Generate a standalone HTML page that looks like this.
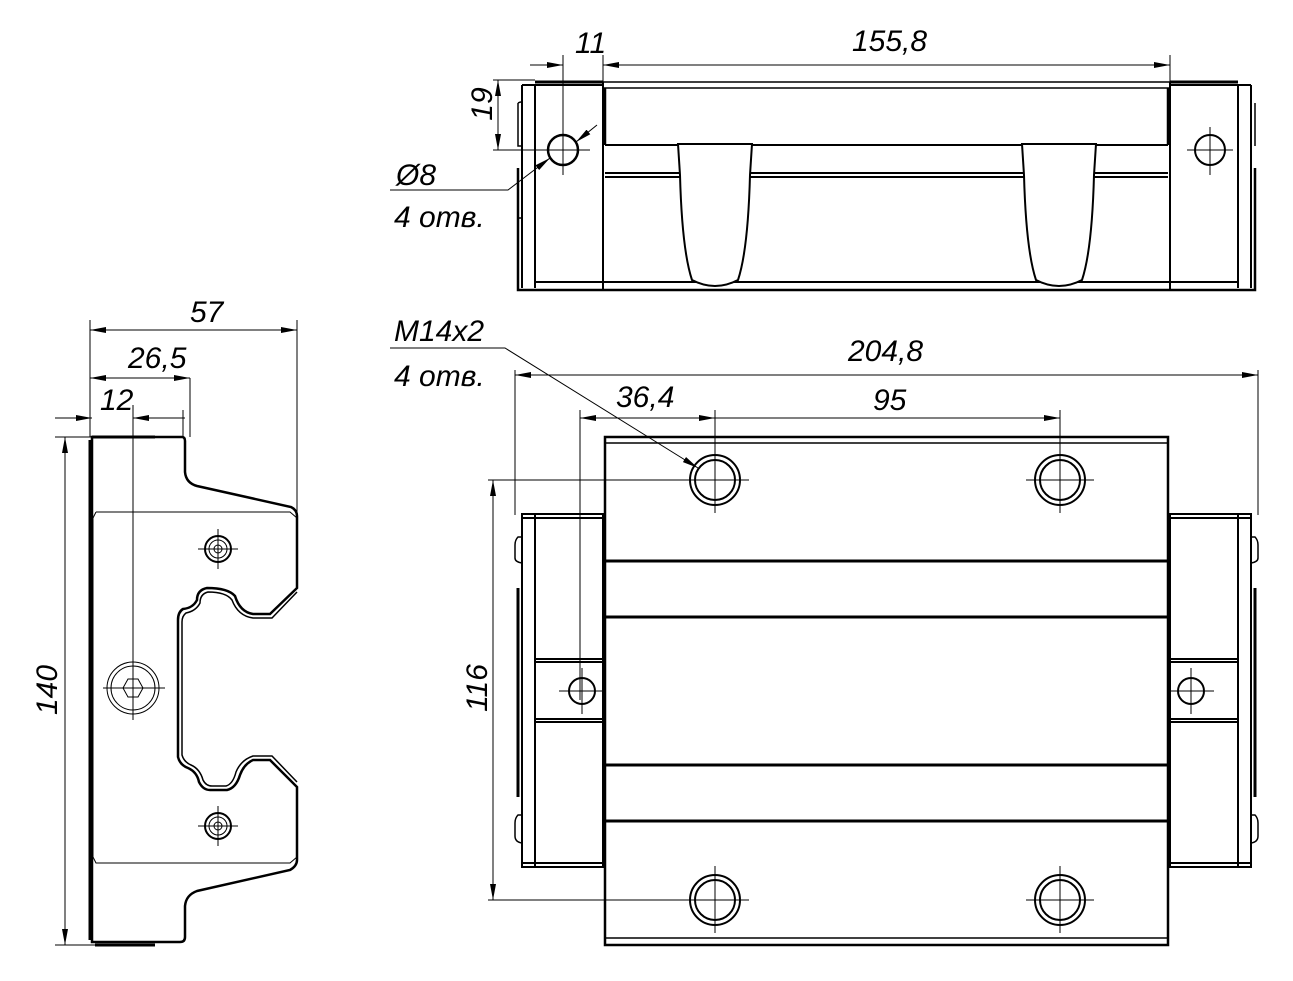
<!DOCTYPE html>
<html><head><meta charset="utf-8"><style>
html,body{margin:0;padding:0;background:#fff}
svg{display:block}
text{font-family:"Liberation Sans","DejaVu Sans",sans-serif;font-style:italic;font-size:30px;fill:#000}
</style></head><body>
<svg width="1293" height="981" viewBox="0 0 1293 981" xmlns="http://www.w3.org/2000/svg">
<defs>
<marker id="a" markerWidth="16" markerHeight="6" refX="16" refY="3" orient="auto-start-reverse" markerUnits="userSpaceOnUse"><path d="M0,0 L16,3 L0,6 z" fill="#000"/></marker>
</defs>
<g fill="none" stroke="#000" stroke-width="1">
<!-- ===== LEFT VIEW ===== -->
<path stroke-width="2.5" d="M92,437 H182 Q185,437 185,441 V472 Q186,483 197,486 L291,507 Q297,510 297,516 V588 L270,614 H253 Q240,612 235,596 Q228,588 207,588 Q197,590 197,600 Q193,608 183,609 Q178,612 178,620 V757 Q180,765 188,768 Q197,772 199,782 Q203,790 210,790 H227 Q236,788 240,775 Q244,764 253,760 H270 L297,787 V860 Q297,866 290,870 L197,891 Q186,895 185,906 V937 Q185,942 180,942 H92 Z"/>
<path stroke-width="1.5" d="M297,592 L272,618 H253 Q238,616 232,600 Q226,592 208,592 Q200,594 200,603 Q196,611 186,613 Q182,616 182,622 V755 Q184,762 191,765 Q200,769 203,780 Q206,786 212,786 H226 Q233,784 236,772 Q241,760 253,756 H272 L297,782"/>
<path d="M96,512 H290 L297,518 M96,512 L93,518 V857 L96,863 H290 L297,857"/>
<path stroke-width="3" d="M92,437 H155 M95,945 H155 M90,440 V940"/>
<circle cx="218" cy="549" r="13" stroke-width="2"/><circle cx="218" cy="549" r="9"/><circle cx="218" cy="549" r="4"/>
<circle cx="218" cy="826" r="13" stroke-width="2"/><circle cx="218" cy="826" r="9"/><circle cx="218" cy="826" r="4"/>
<path d="M198,549 H238 M218,529 V569 M198,826 H238 M218,806 V846"/>
<circle cx="133" cy="688" r="26"/><circle cx="133" cy="688" r="22"/>
<path d="M123,688 L128,679 H138 L143,688 L138,697 H128 Z"/>
<path d="M103,688 H165 M133,405 V720"/>
<!-- left dims -->
<path d="M90,437 V320 M297,515 V320 M190,378 V437 M183,410 V437"/>
<path d="M90,330 H297" marker-start="url(#a)" marker-end="url(#a)"/>
<path d="M90,378 H190" marker-start="url(#a)" marker-end="url(#a)"/>
<path d="M55,418 H92" marker-end="url(#a)"/><path d="M133,418 H185"/><path d="M185,418 H133" marker-end="url(#a)"/>
<path d="M55,437 H92 M55,945 H95"/>
<path d="M65,437 V945" marker-start="url(#a)" marker-end="url(#a)"/>

<!-- ===== TOP VIEW ===== -->
<path stroke-width="2.5" d="M518,168 V290 H1255 V168"/>
<path stroke-width="2" d="M522,85 H603 M522,85 V288 M535,85 V288 M603,82 V289 M1170,82 V289 M1238,85 V288 M1251,85 V288 M1170,85 H1251"/>
<path stroke-width="3" d="M535,82 H603 M1170,82 H1238"/>
<path stroke-width="1.5" d="M603,82 H1170 M603,88 H1170"/>
<path stroke-width="2" d="M605,145 H1168 M605,173 H1168 M605,177 H1168 M535,282 H1238"/>
<path stroke-width="2.5" d="M605,88 V145 M1168,88 V145"/>
<path stroke-width="1.5" d="M518,103 Q522,101 522,103 M518,103 V146 H522 M1255,103 V146 M518,198 V218 H522 M1255,198 V218"/>
<path stroke-width="2" fill="#fff" d="M678,144 H752 L750,175 Q748,250 738,280 Q715,292 692,280 Q682,250 680,175 Z"/>
<path stroke-width="2" fill="#fff" d="M1022,144 H1096 L1094,175 Q1092,250 1082,280 Q1059,292 1036,280 Q1026,250 1024,175 Z"/>
<circle cx="563" cy="150" r="15" stroke-width="2.5"/>
<circle cx="1210" cy="150" r="15" stroke-width="2"/>
<path d="M540,150 H590 M563,127 V175 M1187,150 H1233 M1210,127 V175"/>
<!-- top dims -->
<path d="M563,55 V150 M603,55 V82 M1170,55 V85"/>
<path d="M530,65 H563" marker-end="url(#a)"/><path d="M1170,65 H603" marker-end="url(#a)"/><path d="M603,65 H1170" marker-end="url(#a)"/>
<path d="M493,80 H535 M493,150 H545"/>
<path d="M498,80 V150" marker-start="url(#a)" marker-end="url(#a)"/>
<path d="M597,125 L576,142" marker-end="url(#a)"/>
<path d="M390,190 H508 L550,158" marker-end="url(#a)"/>

<!-- ===== BOTTOM VIEW ===== -->
<path stroke-width="2.5" d="M605,437 H1168 V945 H605 Z"/>
<path stroke-width="1.5" d="M605,443 H1168 M605,938 H1168"/>
<path stroke-width="3" d="M605,561 H1168 M605,617 H1168 M605,765 H1168 M605,821 H1168"/>
<path stroke-width="2" d="M522,514 H603 V867 H522 Z M535,514 V867 M522,518 H603 M522,863 H603 M535,659 H603 M535,662 H603 M535,722 H603 M535,719 H603"/>
<path stroke-width="2" d="M1170,514 H1251 V867 H1170 Z M1238,514 V867 M1170,518 H1251 M1170,863 H1251 M1170,659 H1238 M1170,662 H1238 M1170,722 H1238 M1170,719 H1238"/>
<path stroke-width="1.5" d="M522,537 H518 Q515,540 515,545 V558 Q515,562 522,563 M522,815 H518 Q515,818 515,823 V836 Q515,842 522,843 M1251,537 H1255 Q1258,540 1258,545 V558 Q1258,562 1251,563 M1251,815 H1255 Q1258,818 1258,823 V836 Q1258,842 1251,843"/>
<path stroke-width="3" d="M518,588 V797 M1255,588 V797"/>
<circle cx="582" cy="691" r="13" stroke-width="2"/><circle cx="1191" cy="691" r="13" stroke-width="2"/>
<path d="M559,691 H605 M582,668 V714 M1168,691 H1214 M1191,668 V714"/>
<g stroke-width="2">
<circle cx="715" cy="480" r="25"/><circle cx="715" cy="480" r="20"/>
<circle cx="1060" cy="480" r="25"/><circle cx="1060" cy="480" r="20"/>
<circle cx="715" cy="900" r="25"/><circle cx="715" cy="900" r="20"/>
<circle cx="1060" cy="900" r="25"/><circle cx="1060" cy="900" r="20"/>
</g>
<path d="M488,480 H749 M715,410 V513 M1060,410 V513 M1026,480 H1094 M488,900 H749 M715,866 V933 M1060,866 V933 M1026,900 H1094 M580,410 V700"/>
<path d="M515,370 V515 M1258,370 V515"/>
<path d="M515,375 H1258" marker-start="url(#a)" marker-end="url(#a)"/>
<path d="M580,418 H715" marker-start="url(#a)" marker-end="url(#a)"/>
<path d="M715,418 H1060" marker-end="url(#a)"/>
<path d="M493,480 V900" marker-start="url(#a)" marker-end="url(#a)"/>
<path d="M390,348 H505 L698,468" marker-end="url(#a)"/>
</g>
<!-- texts -->
<text x="190" y="322">57</text>
<text x="128" y="368">26,5</text>
<text x="100" y="410">12</text>
<text transform="translate(57,690) rotate(-90)" text-anchor="middle">140</text>
<text x="575" y="53">11</text>
<text x="852" y="51">155,8</text>
<text transform="translate(492,104) rotate(-90)" text-anchor="middle">19</text>
<text x="396" y="185">Ø8</text>
<text x="394" y="227">4 отв.</text>
<text x="394" y="341">M14x2</text>
<text x="394" y="386">4 отв.</text>
<text x="848" y="361">204,8</text>
<text x="616" y="407">36,4</text>
<text x="873" y="410">95</text>
<text transform="translate(487,688) rotate(-90)" text-anchor="middle">116</text>
</svg>
</body></html>
